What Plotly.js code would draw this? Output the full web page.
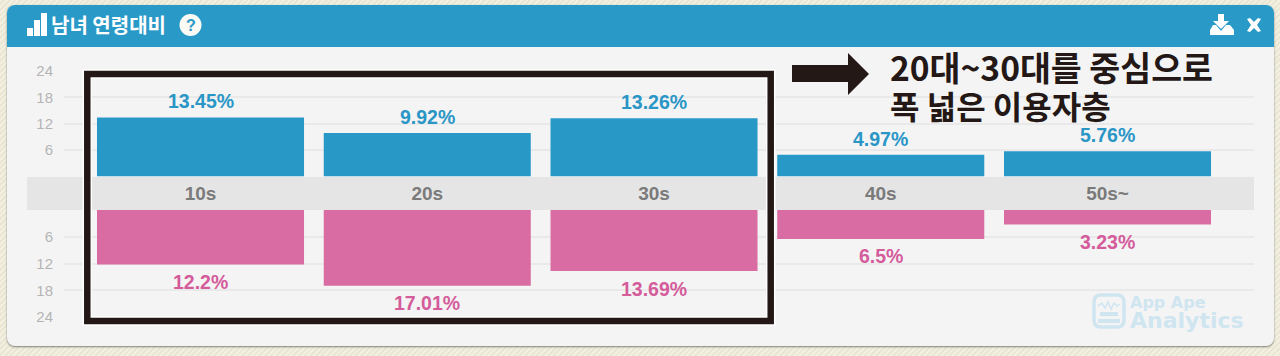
<!DOCTYPE html>
<html>
<head>
<meta charset="utf-8">
<script src="https://cdn.plot.ly/plotly-3.0.1.min.js"></script>
<style>
html,body{margin:0;padding:0;width:1280px;height:356px;overflow:hidden;
 background:repeating-linear-gradient(135deg,#f3f0e2 0 2px,#e9e6d4 2px 4px);}
#card{position:absolute;left:7px;top:5px;width:1267px;height:341px;background:#f4f4f5;border-radius:8px;
 box-shadow:0 1px 2px rgba(70,70,60,.65);overflow:hidden;}
#head{height:42px;background:#2999c7;}
#chart{position:absolute;left:0;top:0;width:1280px;height:356px;}
</style>
</head>
<body>
<div id="card"><div id="head"></div></div>
<div id="chart"></div>
<script>
const categories = ['10s','20s','30s','40s','50s~'];
const maleValues = [13.45, 9.92, 13.26, 4.97, 5.76];
const femaleValues = [12.2, 17.01, 13.69, 6.5, 3.23];
const yTicks = [6, 12, 18, 24];
const chartTitle = '남녀 연령대비';
const noteLines = ['20대~30대를 중심으로', '폭 넓은 이용자층'];
const watermarkLines = ['App Ape', 'Analytics'];

const W = 1280, H = 356;
const px = x => x / W, py = y => 1 - y / H;
const BLUE = '#2899c7', PINK = '#d96ca2', INK = '#231815', MARK = '#cfe5f0';
const LATIN = '"Liberation Sans", Arial, sans-serif', KR = '"Noto Sans CJK KR", sans-serif';

function rect(x0, y0, x1, y1, fill, layer) {
  return {type:'rect', xref:'paper', yref:'paper', x0:px(x0), x1:px(x1), y0:py(y0), y1:py(y1),
    fillcolor:fill, line:{width:0}, layer:layer || 'above'};
}
function poly(points, fill) {
  const d = points.map((p, i) => (i ? 'L' : 'M') + px(p[0]) + ',' + py(p[1])).join(' ') + ' Z';
  return {type:'path', xref:'paper', yref:'paper', path:d, fillcolor:fill, line:{width:0}, layer:'above'};
}
function stroke(points, color, width) {
  const d = points.map((p, i) => (i ? 'L' : 'M') + px(p[0]) + ',' + py(p[1])).join(' ');
  return {type:'path', xref:'paper', yref:'paper', path:d, line:{color:color, width:width}, layer:'above'};
}
function frame(color, width) {
  return {type:'rect', xref:'paper', yref:'paper', x0:px(87.3), x1:px(770.7), y0:py(74), y1:py(321),
    fillcolor:'rgba(0,0,0,0)', line:{color:color, width:width}, layer:'above'};
}
function note(text, x, y, size, color, family, anchor) {
  return {xref:'paper', yref:'paper', x:px(x), y:py(y), text:text, showarrow:false, xanchor:anchor || 'left', yanchor:'middle', align:'left',
    font:{size:size, color:color, family:family, weight:700}};
}
const sized = (s, n) => '<span style="font-size:' + n + 'px">' + s + '</span>';

const traces = [
  {type:'bar', x:categories, y:maleValues, xaxis:'x', yaxis:'y', marker:{color:BLUE}, hoverinfo:'x+y'},
  {type:'bar', x:categories, y:femaleValues, xaxis:'x', yaxis:'y2', marker:{color:PINK}, hoverinfo:'x+y'}
];

const valueNotes = [];
categories.forEach((c, i) => {
  valueNotes.push({xref:'x', yref:'y', x:c, y:maleValues[i], yshift:16, text:maleValues[i] + '%', showarrow:false,
    yanchor:'middle', font:{size:19.5, color:'#2a96c6', family:LATIN, weight:700}});
  valueNotes.push({xref:'x', yref:'y2', x:c, y:femaleValues[i], yshift:-17.5, text:femaleValues[i] + '%', showarrow:false,
    yanchor:'middle', font:{size:19.5, color:'#d55c9b', family:LATIN, weight:700}});
});

const yAxisBase = {
  tickvals:yTicks, ticktext:yTicks.map(String), range:[0, 24], showline:false, zeroline:false,
  gridcolor:'#e9e9e9', gridwidth:2, ticks:'outside', ticklen:7, tickcolor:'rgba(0,0,0,0)',
  tickfont:{size:15, color:'#b4b4b4', family:LATIN}, fixedrange:true
};

const layout = {
  width:W, height:H, autosize:false, margin:{l:0, r:0, t:0, b:0, pad:0},
  paper_bgcolor:'rgba(0,0,0,0)', plot_bgcolor:'rgba(0,0,0,0)', showlegend:false, bargap:0.087,
  title:{text:chartTitle, x:px(51), xanchor:'left', xref:'paper', y:py(26), yanchor:'middle', yref:'paper',
    font:{size:20, color:'#ffffff', family:KR, weight:700}},
  xaxis:{domain:[px(64), px(1254)], range:[-0.602, 4.646], anchor:'y', type:'category', categoryorder:'array', categoryarray:categories,
    showgrid:false, zeroline:false, showline:false, ticks:'', ticklen:0, ticklabelstandoff:3,
    tickfont:{size:19, color:'#7a7a7a', family:LATIN, weight:700}, fixedrange:true},
  yaxis:Object.assign({}, yAxisBase, {domain:[py(176.5), py(71)], anchor:'x'}),
  yaxis2:Object.assign({}, yAxisBase, {domain:[py(317), py(210)], anchor:'x', autorange:false, range:[24, 0]}),
  shapes:[
    rect(27, 177, 1254, 210, '#e5e5e5', 'below'),
    // header icons
    rect(27, 28, 33, 36, '#ffffff'), rect(34, 20, 40, 36, '#ffffff'), rect(41, 13, 47, 36, '#ffffff'),
    {type:'circle', xref:'paper', yref:'paper', x0:px(179.5), x1:px(201.5), y0:py(14), y1:py(36), fillcolor:'#fbfaf4', line:{width:0}, layer:'above'},
    poly([[1218,14],[1224,14],[1224,21],[1229,21],[1221,29],[1213,21],[1218,21]], '#ffffff'),
    poly([[1210,35],[1210,30],[1213,25],[1216,25],[1221,31],[1226,25],[1230,25],[1234,30],[1234,35]], '#ffffff'),
    poly([[1247,19],[1250,18],[1254,22],[1258,18],[1261,19],[1257,25],[1261,31],[1258,32],[1254,28],[1250,32],[1247,31],[1251,25]], '#ffffff'),
    // highlight frame and arrow
    frame('#ffffff', 9.5), frame(INK, 6.5),
    poly([[792,65],[848,65],[848,53],[869,74],[848,95],[848,82],[792,82]], INK),
    // watermark icon
    {type:'path', xref:'paper', yref:'paper', layer:'above', fillcolor:'rgba(0,0,0,0)', line:{color:MARK, width:3.5},
      path:'M' + px(1101) + ',' + py(295) + ' L' + px(1117) + ',' + py(295) + ' Q' + px(1124) + ',' + py(295) + ' ' + px(1124) + ',' + py(302) +
           ' L' + px(1124) + ',' + py(320) + ' Q' + px(1124) + ',' + py(327) + ' ' + px(1117) + ',' + py(327) +
           ' L' + px(1101) + ',' + py(327) + ' Q' + px(1094) + ',' + py(327) + ' ' + px(1094) + ',' + py(320) +
           ' L' + px(1094) + ',' + py(302) + ' Q' + px(1094) + ',' + py(295) + ' ' + px(1101) + ',' + py(295) + ' Z'},
    stroke([[1098,306],[1102,303],[1105,308],[1108,302],[1111,309],[1114,303],[1117,306],[1120,304]], MARK, 1.5),
    rect(1100, 312, 1118, 316, MARK), rect(1098, 319, 1120, 323, MARK)
  ],
  annotations:valueNotes.concat([
    note('?', 190.5, 25, 16, '#2999c7', LATIN, 'center'),
    note(sized(noteLines[0], 33.6) + '<br>' + sized(noteLines[1], 32), 888, 85, 29, INK, KR),
    note(sized(watermarkLines[0], 16) + '<br>' + sized(watermarkLines[1], 22), 1128, 312.5, 15, MARK, '"DejaVu Sans", sans-serif')
  ])
};
Plotly.newPlot('chart', traces, layout, {displayModeBar:false, staticPlot:true});
</script>
</body>
</html>
